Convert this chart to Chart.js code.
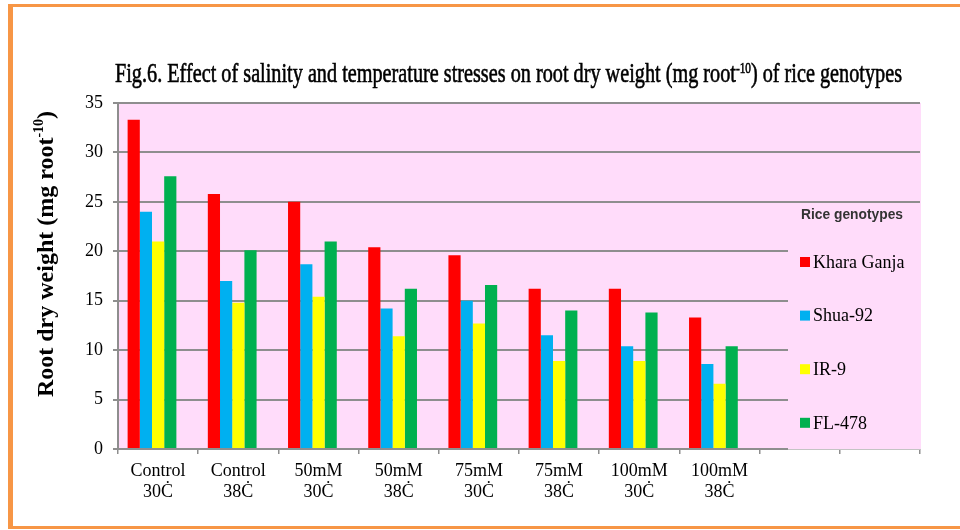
<!DOCTYPE html>
<html>
<head>
<meta charset="utf-8">
<script src="https://cdn.jsdelivr.net/npm/chart.js@4.4.1/dist/chart.umd.min.js"></script>
<style>
  html, body { margin: 0; padding: 0; background: #fff; }
  #wrap { position: relative; width: 960px; height: 530px; overflow: hidden; }
  #frame {
    position: absolute; left: 8px; top: 4px; right: -10px; bottom: 1px;
    border-left: 5px solid #F79646; border-top: 3px solid #F79646; border-bottom: 3px solid #F79646;
    pointer-events: none;
  }
</style>
</head>
<body>
<div id="wrap">
  <canvas id="grafica" width="960" height="530"></canvas>
  <div id="frame"></div>
</div>
<script>
// categories (two empty slots at the end, like the original sheet)
const categorias = [
  ["Control", "30Ċ"], ["Control", "38Ċ"], ["50mM", "30Ċ"], ["50mM", "38Ċ"],
  ["75mM", "30Ċ"], ["75mM", "38Ċ"], ["100mM", "30Ċ"], ["100mM", "38Ċ"], "", ""
];
const genotipos = ["Khara Ganja", "Shua-92", "IR-9", "FL-478"];
const kharaGanja = [33.3, 25.8, 25.0, 20.4, 19.6, 16.2, 16.2, 13.3];
const shua92 = [24.0, 17.0, 18.7, 14.2, 15.0, 11.5, 10.4, 8.6];
const ir9 = [21.0, 14.8, 15.4, 11.4, 12.7, 8.9, 8.9, 6.6];
const fl478 = [27.6, 20.1, 21.0, 16.2, 16.6, 14.0, 13.8, 10.4];
const yTicks = [0, 5, 10, 15, 20, 25, 30, 35];

const colores = ["#FF0000", "#00B0F0", "#FFFF00", "#00B050"];
const ROSA = "#FFDCFA";
const GRIS = "#8e8e8e";

const titulo = ["Fig.6. Effect of salinity and temperature stresses on root dry weight (mg root", "-10", ") of rice genotypes"];
const ejeY = ["Root dry weight (mg root", "-10", ")"];
const tituloLeyenda = "Rice genotypes";

// text + superscript + text
function textoConSup(ctx, partes, fuente, fuenteSup, subida, trazo) {
  ctx.font = fuente;
  const w1 = ctx.measureText(partes[0]).width;
  ctx.font = fuenteSup;
  const w2 = ctx.measureText(partes[1]).width;
  ctx.font = fuente;
  const w3 = ctx.measureText(partes[2]).width;
  const escribir = (txt, x, y) => {
    ctx.fillText(txt, x, y);
    if (trazo) ctx.strokeText(txt, x, y);
  };
  return {
    ancho: w1 + w2 + w3,
    pintar(x, y) {
      ctx.font = fuente;
      escribir(partes[0], x, y);
      ctx.font = fuenteSup;
      escribir(partes[1], x + w1, y - subida);
      ctx.font = fuente;
      escribir(partes[2], x + w1 + w2, y);
    }
  };
}

const fondo = {
  id: "fondo",
  beforeDraw(chart) {
    const { ctx, chartArea: a } = chart;
    ctx.save();
    ctx.fillStyle = ROSA;
    ctx.fillRect(a.left, a.top, a.right - a.left + 1, a.bottom - a.top);
    ctx.restore();
  },
  beforeDatasetsDraw(chart) {
    // the legend box sits over the grid on the right
    const { ctx, chartArea: a } = chart;
    ctx.save();
    ctx.fillStyle = ROSA;
    ctx.fillRect(788, 235, a.right + 1 - 788, a.bottom - 235);
    ctx.strokeStyle = "#c4c4c4";
    ctx.lineWidth = 1;
    ctx.beginPath();
    ctx.moveTo(788, a.bottom + 0.5);
    ctx.lineTo(a.right + 1, a.bottom + 0.5);
    ctx.stroke();
    ctx.restore();
  },
  afterDraw(chart) {
    const ctx = chart.ctx;
    ctx.save();
    ctx.fillStyle = "#000";
    ctx.strokeStyle = "#000";
    ctx.textBaseline = "alphabetic";
    ctx.textAlign = "left";

    // title, condensed and a bit heavy
    ctx.lineWidth = 0.6;
    const t = textoConSup(ctx, titulo, '27px "Liberation Serif"', '15px "Liberation Serif"', 9, true);
    ctx.save();
    ctx.translate(115, 82);
    ctx.scale(787 / t.ancho, 1);
    t.pintar(0, 0);
    ctx.restore();

    // y axis label
    const e = textoConSup(ctx, ejeY, 'bold 24px "Liberation Serif"', 'bold 14px "Liberation Serif"', 10, false);
    ctx.save();
    ctx.translate(53, 254);
    ctx.rotate(-Math.PI / 2);
    e.pintar(-e.ancho / 2, 0);
    ctx.restore();

    // legend
    ctx.save();
    ctx.font = 'bold 15px "Liberation Sans"';
    ctx.fillStyle = "#333";
    ctx.translate(801, 219);
    ctx.scale(0.92, 1);
    ctx.fillText(tituloLeyenda, 0, 0);
    ctx.restore();

    ctx.font = '18px "Liberation Serif"';
    ctx.textBaseline = "middle";
    chart.data.datasets.slice(0, 4).forEach((ds, i) => {
      const y = 262 + i * 53.6;
      ctx.fillStyle = ds.backgroundColor;
      ctx.fillRect(800, y - 5, 10, 10);
      ctx.fillStyle = "#000";
      ctx.fillText(ds.label, 813, y + 1);
    });
    ctx.restore();
  }
};

const series = [kharaGanja, shua92, ir9, fl478];
const datasets = series.map((valores, i) => ({
  label: genotipos[i],
  data: valores,
  backgroundColor: colores[i],
  borderWidth: 0
}));
// empty fifth slot in every group
datasets.push({ label: "", data: [], backgroundColor: "rgba(0,0,0,0)" });

new Chart(document.getElementById("grafica"), {
  type: "bar",
  data: { labels: categorias, datasets: datasets },
  options: {
    responsive: false,
    animation: false,
    events: [],
    layout: { padding: { top: 103, right: 40, left: 0, bottom: 0 } },
    datasets: { bar: { categoryPercentage: 0.76, barPercentage: 1.0 } },
    plugins: { legend: { display: false }, title: { display: false }, tooltip: { enabled: false } },
    scales: {
      x: {
        afterFit: (s) => { s.height = 81; },
        grid: { drawOnChartArea: false, drawTicks: true, tickLength: 5, color: GRIS, lineWidth: 1.5 },
        border: { color: GRIS, width: 2 },
        ticks: {
          color: "#000",
          padding: 6,
          maxRotation: 0,
          autoSkip: false,
          font: { family: "Liberation Serif", size: 18, lineHeight: 1.2 }
        }
      },
      y: {
        min: 0,
        max: 35,
        afterFit: (s) => { s.width = 118; },
        afterBuildTicks: (s) => { s.ticks = yTicks.map((v) => ({ value: v })); },
        grid: { color: GRIS, lineWidth: 2, tickLength: 5 },
        border: { color: GRIS, width: 2 },
        ticks: {
          color: "#000",
          padding: 10,
          font: { family: "Liberation Serif", size: 18 }
        }
      }
    }
  },
  plugins: [fondo]
});
</script>
</body>
</html>
